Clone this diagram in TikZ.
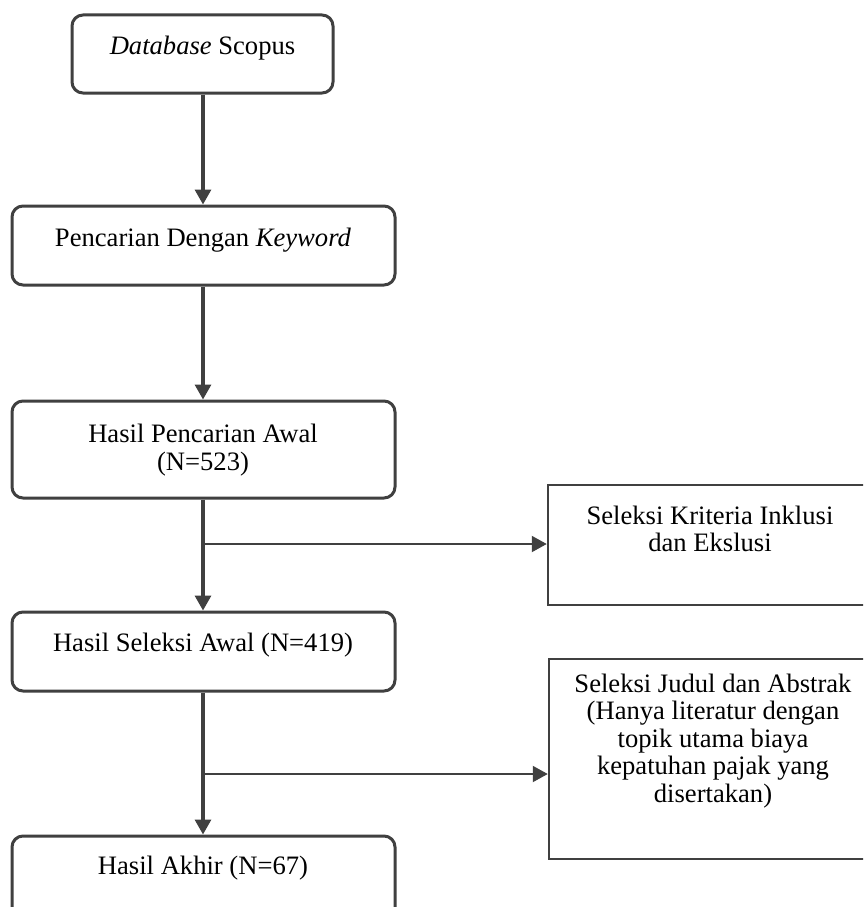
\documentclass[tikz,border=0pt]{standalone}
\usepackage{fontspec}
\setmainfont{Liberation Serif}
\usetikzlibrary{arrows.meta}
\definecolor{ln}{HTML}{404040}
\begin{document}
\begin{tikzpicture}[x=1pt,y=-1pt,
  rbox/.style={draw=ln, line width=3pt, rounded corners=11pt, inner sep=0pt},
  sbox/.style={draw=ln, line width=2.5pt, inner sep=0pt},
  txt/.style={font=\fontsize{26.6pt}{27.5pt}\selectfont, align=center, inner sep=0pt, text=black},
  flow/.style={draw=ln, line width=3.2pt, -{Triangle[width=16pt,length=15pt]}},
  side/.style={draw=ln, line width=2pt, -{Triangle[width=16pt,length=15pt]}}]
\useasboundingbox (0,0) rectangle (863,907);
\clip (0,0) rectangle (863,907);
\fill[white] (0,0) rectangle (863,907);
% boxes
\node[rbox, minimum width=261pt, minimum height=78pt] (b1) at (202.5,54) {};
\node[rbox, minimum width=383pt, minimum height=79pt] (b2) at (203.5,245.5) {};
\node[rbox, minimum width=383pt, minimum height=97pt] (b3) at (203.5,449.5) {};
\node[rbox, minimum width=383pt, minimum height=79pt] (b4) at (203.5,651.5) {};
\node[rbox, minimum width=383pt, minimum height=100pt] (b5) at (203.5,886) {};
\node[sbox, minimum width=340pt, minimum height=120pt] (r1) at (718,545) {};
\node[sbox, minimum width=340pt, minimum height=200pt] (r2) at (719,759) {};
% texts
\node[txt] (t1) at (202.5,48) {\textit{Database} Scopus};
\node[txt] (t2) at (203,240) {Pencarian Dengan \textit{Keyword}};
\node[txt] (t3) at (203,450) {Hasil Pencarian Awal\\(N=523)};
\node[txt] (t4) at (203,645) {Hasil Seleksi Awal (N=419)};
\node[txt] (t5) at (203,868) {Hasil Akhir (N=67)};
\node[txt] (t6) at (710,529) {Seleksi Kriteria Inklusi\\dan Ekslusi};
\node[txt] (t7) at (713,741) {Seleksi Judul dan Abstrak\\(Hanya literatur dengan\\topik utama biaya\\kepatuhan pajak yang\\disertakan)};
% connectors
\coordinate (p1) at (203,544);
\coordinate (p2) at (203,774);
\draw[flow] (b1.south -| 203,0) -- (b2.north -| 203,0);
\draw[flow] (b2.south -| 203,0) -- (b3.north -| 203,0);
\draw[flow] (b3.south -| 203,0) -- (b4.north -| 203,0);
\draw[flow] (b4.south -| 203,0) -- (b5.north -| 203,0);
\draw[side] (p1) -- (r1.west |- p1);
\draw[side] (p2) -- (r2.west |- p2);
\end{tikzpicture}
\end{document}
